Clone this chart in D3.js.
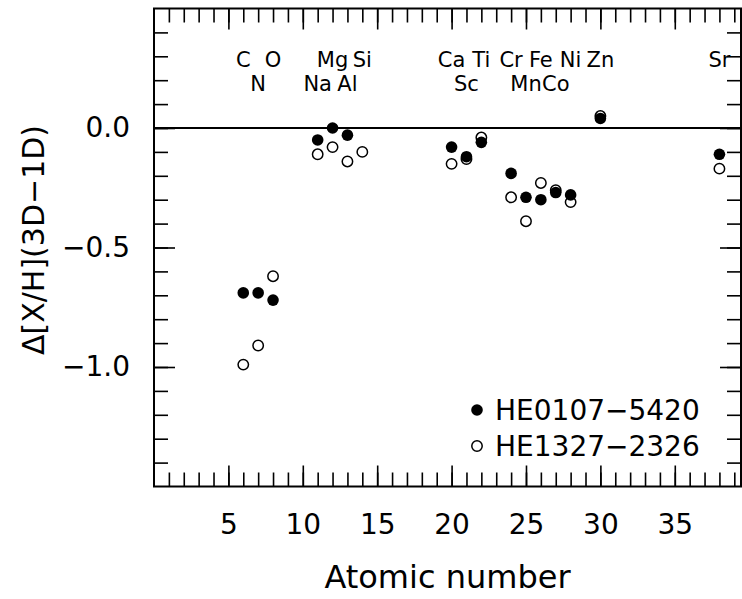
<!DOCTYPE html>
<html>
<head>
<meta charset="utf-8">
<script src="https://cdn.jsdelivr.net/npm/d3@7"></script>
<style>
  body { margin: 0; background: #fff; }
  svg text { font-family: "DejaVu Sans", sans-serif; fill: #000; }
</style>
</head>
<body>
<div id="chart"></div>
<script>
// element symbols and their atomic numbers
const elements = ["C", "N", "O", "Na", "Mg", "Al", "Si", "Ca", "Sc", "Ti", "Cr", "Mn", "Fe", "Co", "Ni", "Zn", "Sr"];
const atomicNumbers = [6, 7, 8, 11, 12, 13, 14, 20, 21, 22, 24, 25, 26, 27, 28, 30, 38];
// 3D-1D abundance corrections (null = not measured)
const he0107 = [-0.69, -0.69, -0.72, -0.05, 0.00, -0.03, null, -0.08, -0.12, -0.06, -0.19, -0.29, -0.30, -0.27, -0.28, 0.04, -0.11];
const he1327 = [-0.99, -0.91, -0.62, -0.11, -0.08, -0.14, -0.10, -0.15, -0.13, -0.04, -0.29, -0.39, -0.23, -0.26, -0.31, 0.05, -0.17];
const seriesNames = ["HE0107\u22125420", "HE1327\u22122326"];
const xLabelTicks = [5, 10, 15, 20, 25, 30, 35];
const yLabelTicks = [0, -0.5, -1.0];

let width = 742, height = 599;
let plotLeft = 154, plotRight = 741, plotTop = 8.5, plotBottom = 486.5;
let majorLen = 21, minorLen = 14;

const svg = d3.select("#chart")
        .append("svg")
        .attr("width", width)
        .attr("height", height);

const x = d3.scaleLinear().domain([0, 39.45]).range([plotLeft, plotRight]);
const y = d3.scaleLinear().domain([-1.5, 0.5]).range([plotBottom, plotTop]);

const xMinor = d3.range(1, 40);
const yMinor = d3.range(-14, 5).map(d => d / 10);

// draw one set of ticks, optionally with labels
function ticks(axis, pos, values, len, fmt, pad) {
    const g = svg.append("g")
        .attr("transform", pos)
        .call(axis.tickValues(values).tickSize(-len).tickPadding(pad || 0).tickFormat(fmt || (() => "")));
    g.select(".domain").remove();
    g.selectAll("line").attr("stroke-width", 1.6);
    g.selectAll("text").attr("font-size", 28).attr("font-family", "DejaVu Sans");
    return g;
}

ticks(d3.axisBottom(x), `translate(0,${plotBottom})`, xMinor, minorLen);
ticks(d3.axisBottom(x), `translate(0,${plotBottom})`, xLabelTicks, majorLen, d => d, 27.5);
ticks(d3.axisTop(x), `translate(0,${plotTop})`, xMinor, minorLen);
ticks(d3.axisTop(x), `translate(0,${plotTop})`, xLabelTicks, majorLen);
ticks(d3.axisLeft(y), `translate(${plotLeft},0)`, yMinor, minorLen);
ticks(d3.axisLeft(y), `translate(${plotLeft},0)`, yLabelTicks, majorLen, d3.format(".1f"), 24);
ticks(d3.axisRight(y), `translate(${plotRight},0)`, yMinor, minorLen);
ticks(d3.axisRight(y), `translate(${plotRight},0)`, yLabelTicks, majorLen);

// frame
svg.append("rect")
    .attr("x", plotLeft).attr("y", plotTop)
    .attr("width", plotRight - plotLeft).attr("height", plotBottom - plotTop)
    .attr("fill", "none").attr("stroke", "#000").attr("stroke-width", 2);

// zero line
svg.append("line")
    .attr("x1", plotLeft).attr("x2", plotRight)
    .attr("y1", y(0)).attr("y2", y(0))
    .attr("stroke", "#000").attr("stroke-width", 2.2);

// element names, even Z on upper row, odd Z on lower row
svg.selectAll(".elem")
    .data(elements)
    .enter()
        .append("text")
        .attr("class", "elem")
        .attr("x", (d, i) => x(atomicNumbers[i]))
        .attr("y", (d, i) => atomicNumbers[i] % 2 === 0 ? 67 : 91)
        .attr("text-anchor", "middle")
        .attr("font-size", 21)
        .text(d => d);

const pts = (vals) => atomicNumbers.map((z, i) => ({z: z, v: vals[i]})).filter(d => d.v !== null);

// open circles first so filled ones sit on top
svg.selectAll(".open")
    .data(pts(he1327))
    .enter()
        .append("circle")
        .attr("class", "open")
        .attr("cx", d => x(d.z))
        .attr("cy", d => y(d.v))
        .attr("r", 5.2)
        .attr("fill", "#fff")
        .attr("stroke", "#000")
        .attr("stroke-width", 1.5);

svg.selectAll(".filled")
    .data(pts(he0107))
    .enter()
        .append("circle")
        .attr("class", "filled")
        .attr("cx", d => x(d.z))
        .attr("cy", d => y(d.v))
        .attr("r", 5.8)
        .attr("fill", "#000");

// legend
const legend = svg.append("g").attr("transform", "translate(477,410)");
seriesNames.forEach((name, i) => {
    legend.append("circle")
        .attr("cx", 0).attr("cy", i * 36)
        .attr("r", i === 0 ? 5.8 : 5.2)
        .attr("fill", i === 0 ? "#000" : "#fff")
        .attr("stroke", "#000").attr("stroke-width", i === 0 ? 0 : 1.5);
    legend.append("text")
        .attr("x", 18).attr("y", i * 36)
        .attr("dy", "0.36em")
        .attr("font-size", 28)
        .text(name);
});

// axis titles
svg.append("text")
    .attr("x", (plotLeft + plotRight) / 2)
    .attr("y", 588)
    .attr("text-anchor", "middle")
    .attr("font-size", 32)
    .text("Atomic number");

svg.append("text")
    .attr("transform", "translate(44,240) rotate(-90)")
    .attr("text-anchor", "middle")
    .attr("font-size", 30)
    .text("\u0394[X/H](3D\u22121D)");
</script>
</body>
</html>
